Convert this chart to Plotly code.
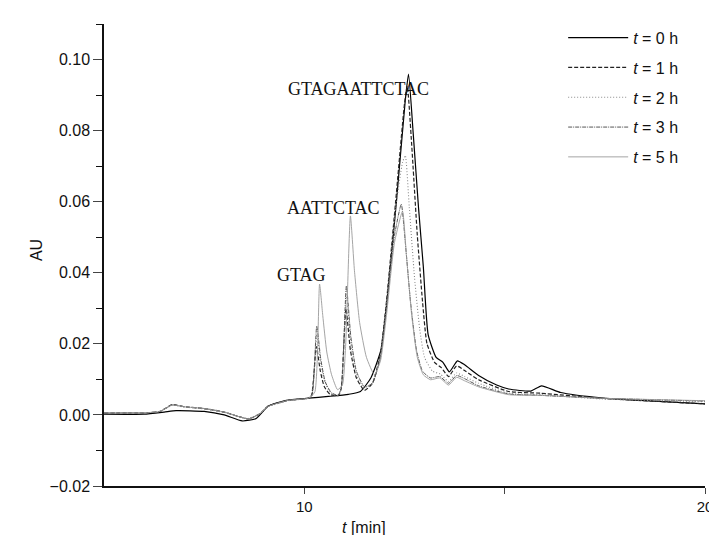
import plotly.graph_objects as go

# ---- data (time in min, absorbance AU) ----
x_t0 = [5.0, 6.0, 6.5, 6.8, 7.5, 8.0, 8.45, 8.8, 9.1, 9.55, 10.1, 10.6, 11.1, 11.4, 11.66, 11.91,
        12.06, 12.3, 12.52, 12.6, 12.72, 12.85, 12.97, 13.09, 13.29, 13.46, 13.62, 13.82, 14.0,
        14.35, 14.8, 15.1, 15.65, 15.92, 16.4, 17.4, 18.5, 20.0]
y_t0 = [0.0002, 0.0002, 0.0008, 0.0012, 0.0010, 0.0000, -0.0017, -0.0010, 0.0025, 0.0041, 0.0047,
        0.0052, 0.0058, 0.0066, 0.0104, 0.0182, 0.0319, 0.0602, 0.0886, 0.0959, 0.0788, 0.0583,
        0.0417, 0.0226, 0.0162, 0.0148, 0.0121, 0.0152, 0.0141, 0.0111, 0.0084, 0.0073, 0.0067,
        0.0082, 0.0063, 0.0048, 0.0040, 0.0031]

x_t1 = [5.0, 6.0, 6.4, 6.7, 7.0, 7.5, 8.0, 8.6, 8.9, 9.1, 9.6, 10.1, 10.18, 10.3, 10.4, 10.5,
        10.65, 10.85, 10.92, 11.04, 11.15, 11.3, 11.5, 11.7, 11.9, 12.05, 12.28, 12.5, 12.57,
        12.68, 12.82, 12.95, 13.06, 13.25, 13.42, 13.6, 13.8, 14.0, 14.35, 15.1, 15.9, 17.4, 20.0]
y_t1 = [0.0006, 0.0006, 0.0010, 0.0029, 0.0023, 0.0018, 0.0008, -0.0011, 0.0004, 0.0025, 0.0041,
        0.0047, 0.0055, 0.0192, 0.0123, 0.0079, 0.0057, 0.0055, 0.0074, 0.0299, 0.0182, 0.0104,
        0.0069, 0.0089, 0.0172, 0.0319, 0.0602, 0.0876, 0.0925, 0.0759, 0.0505, 0.0319, 0.0201,
        0.0148, 0.0133, 0.0108, 0.0138, 0.0125, 0.0099, 0.0066, 0.0061, 0.0047, 0.0031]

x_t2 = [5.0, 6.0, 6.4, 6.7, 7.0, 7.5, 8.0, 8.6, 8.9, 9.1, 9.6, 10.1, 10.19, 10.31, 10.41, 10.52,
        10.67, 10.85, 10.93, 11.05, 11.16, 11.3, 11.5, 11.7, 11.9, 12.05, 12.28, 12.45, 12.52,
        12.62, 12.75, 12.88, 13.0, 13.2, 13.4, 13.6, 13.8, 14.0, 14.35, 15.1, 15.9, 17.4, 20.0]
y_t2 = [0.0006, 0.0006, 0.0010, 0.0027, 0.0022, 0.0017, 0.0007, -0.0010, 0.0004, 0.0023, 0.0040,
        0.0047, 0.0055, 0.0226, 0.0143, 0.0089, 0.0060, 0.0055, 0.0079, 0.0338, 0.0201, 0.0113,
        0.0074, 0.0089, 0.0167, 0.0309, 0.0583, 0.0710, 0.0730, 0.0583, 0.0387, 0.0241, 0.0162,
        0.0123, 0.0115, 0.0094, 0.0118, 0.0108, 0.0089, 0.0061, 0.0057, 0.0045, 0.0037]

x_t3 = [5.0, 6.0, 6.4, 6.7, 7.0, 7.5, 8.0, 8.6, 8.9, 9.1, 9.6, 10.1, 10.19, 10.31, 10.41, 10.52,
        10.67, 10.85, 10.93, 11.05, 11.16, 11.3, 11.5, 11.7, 11.9, 12.05, 12.25, 12.42, 12.52,
        12.65, 12.8, 12.95, 13.15, 13.38, 13.6, 13.8, 14.0, 14.35, 15.1, 15.9, 17.4, 20.0]
y_t3 = [0.0006, 0.0006, 0.0010, 0.0028, 0.0023, 0.0018, 0.0008, -0.0011, 0.0004, 0.0024, 0.0041,
        0.0047, 0.0055, 0.0250, 0.0157, 0.0094, 0.0063, 0.0055, 0.0084, 0.0363, 0.0221, 0.0123,
        0.0079, 0.0089, 0.0162, 0.0299, 0.0505, 0.0593, 0.0485, 0.0319, 0.0182, 0.0123, 0.0104,
        0.0108, 0.0089, 0.0111, 0.0102, 0.0082, 0.0059, 0.0055, 0.0047, 0.0039]

x_t5 = [5.0, 6.0, 6.4, 6.7, 7.0, 7.5, 8.0, 8.6, 8.9, 9.1, 9.6, 10.1, 10.26, 10.38, 10.46, 10.56,
        10.68, 10.83, 10.95, 11.03, 11.15, 11.25, 11.38, 11.55, 11.75, 11.9, 12.05, 12.25, 12.45,
        12.55, 12.68, 12.82, 12.97, 13.15, 13.38, 13.6, 13.8, 14.0, 14.35, 15.1, 15.9, 17.4, 20.0]
y_t5 = [0.0006, 0.0006, 0.0010, 0.0028, 0.0023, 0.0018, 0.0008, -0.0011, 0.0004, 0.0024, 0.0041,
        0.0047, 0.0064, 0.0368, 0.0280, 0.0177, 0.0113, 0.0071, 0.0084, 0.0192, 0.0560, 0.0407,
        0.0260, 0.0162, 0.0113, 0.0152, 0.0280, 0.0485, 0.0573, 0.0446, 0.0280, 0.0162, 0.0113,
        0.0099, 0.0104, 0.0084, 0.0106, 0.0096, 0.0079, 0.0057, 0.0055, 0.0047, 0.0040]

series_names = ["<i>t</i> = 0 h", "<i>t</i> = 1 h", "<i>t</i> = 2 h", "<i>t</i> = 3 h", "<i>t</i> = 5 h"]
peak_labels = ["GTAG", "AATTCTAC", "GTAGAATTCTAC"]
peak_label_x = [9.93, 10.72, 11.36]
peak_label_y = [0.0394, 0.0582, 0.0917]

x_ticks = [10, 15, 20]
x_tick_text = ["10", "", "20"]
y_ticks = [-0.02, 0.0, 0.02, 0.04, 0.06, 0.08, 0.10]

styles = [
    dict(color="#000000", width=1.2, dash="solid"),
    dict(color="#222222", width=1.2, dash="4px,2px"),
    dict(color="#8a8a8a", width=1.1, dash="1px,2px"),
    dict(color="#555555", width=1.0, dash="4px,1px,1px,1px"),
    dict(color="#9a9a9a", width=0.9, dash="solid"),
]

xs = [x_t0, x_t1, x_t2, x_t3, x_t5]
ys = [y_t0, y_t1, y_t2, y_t3, y_t5]

fig = go.Figure()
for i in range(5):
    st = dict(styles[i])
    st["shape"] = "spline"
    st["smoothing"] = 0.5
    fig.add_trace(go.Scatter(x=xs[i], y=ys[i], mode="lines", name=series_names[i],
                             line=st, legendgroup=str(i)))

for lab, lx, ly in zip(peak_labels, peak_label_x, peak_label_y):
    fig.add_annotation(x=lx, y=ly, xref="x", yref="y", text=lab, showarrow=False,
                       xanchor="center", yanchor="middle",
                       font=dict(family="Liberation Serif", size=18, color="#111"))

fig.add_annotation(x=-0.112, y=0.51, xref="paper", yref="paper", text="AU", textangle=-90,
                   xanchor="center", yanchor="middle", showarrow=False,
                   font=dict(family="Liberation Sans", size=16, color="#111"))
fig.add_annotation(x=0.432, y=-0.09, xref="paper", yref="paper", text="<i>t</i> [min]",
                   xanchor="center", yanchor="middle", showarrow=False,
                   font=dict(family="Liberation Sans", size=16, color="#111"))

fig.update_layout(
    width=717, height=535,
    margin=dict(l=96, r=14, t=16, b=57),
    paper_bgcolor="white", plot_bgcolor="white",
    font=dict(family="Liberation Sans", size=16, color="#111"),
    showlegend=True,
    legend=dict(x=0.764, y=1.007, xanchor="left", yanchor="top", bgcolor="rgba(0,0,0,0)",
                font=dict(size=16), tracegroupgap=6, itemwidth=60),
    xaxis=dict(range=[5, 20], tickvals=x_ticks, ticktext=x_tick_text, ticks="outside",
               ticklen=6, tickwidth=1.2, showline=True, linecolor="#111", linewidth=1.5,
               showgrid=False, zeroline=False, tickfont=dict(size=15)),
    yaxis=dict(range=[-0.02, 0.11], tickvals=y_ticks, tickformat=".2f", ticks="outside",
               ticklen=9, tickwidth=1.2, showline=True, linecolor="#111", linewidth=1.5,
               showgrid=False, zeroline=False,
               minor=dict(dtick=0.01, ticks="outside", ticklen=6, tickwidth=1.2, tickcolor="#111")),
)

fig.write_html("out.html")
